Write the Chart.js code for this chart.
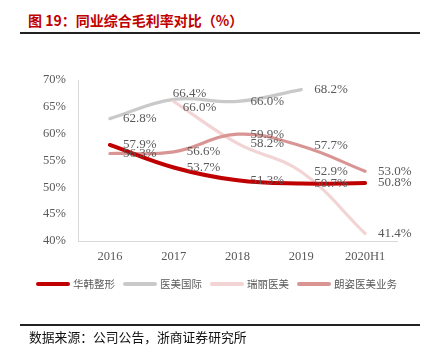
<!DOCTYPE html>
<html><head><meta charset="utf-8">
<script src="https://cdn.jsdelivr.net/npm/chart.js@4/dist/chart.umd.min.js"></script>
<style>
html,body{margin:0;padding:0;background:#fff;}
#wrap{position:relative;width:436px;height:357px;overflow:hidden;}
#c{position:absolute;left:0;top:0;}
.title{position:absolute;left:28px;top:10px;font:bold 14px "Noto Sans CJK SC";color:#C00000;white-space:nowrap;line-height:20px;}
.rule{position:absolute;left:20px;width:400px;height:2px;background:#222;}
.src{position:absolute;left:29px;top:328px;font:12.8px "Noto Sans CJK SC";color:#111;white-space:nowrap;line-height:18px;}
#legend{position:absolute;left:36px;top:277px;height:14px;white-space:nowrap;font:10.5px "Noto Sans CJK SC";color:#595959;line-height:14px;}
#legend span.it{display:inline-block;margin-right:8px;}
#legend i{display:inline-block;width:34px;height:4px;border-radius:2px;vertical-align:middle;margin-right:3px;position:relative;top:-1px;}
</style></head>
<body><div id="wrap">
<div class="title">图 19：同业综合毛利率对比（%）</div>
<div class="rule" style="top:32px"></div>
<canvas id="c" width="436" height="357"></canvas>
<div id="legend"></div>
<div class="rule" style="top:324px"></div>
<div class="src">数据来源：公司公告，浙商证券研究所</div>
</div>
<script>
const categories = ['2016','2017','2018','2019','2020H1'];
const seriesNames = ['华韩整形','医美国际','瑞丽医美','朗姿医美业务'];
const huahan = [57.9, 53.7, 51.3, 50.7, 50.8];
const yimei = [62.8, 66.4, 66.0, 68.2, null];
const ruili = [null, 66.0, 58.2, 52.9, 41.4];
const langzi = [56.3, 56.6, 59.9, 57.7, 53.0];
const yTicks = [40, 45, 50, 55, 60, 65, 70];

const colors = ['#C00000', '#C9C9C9', '#F2D4D4', '#D99594'];
const widths = [4, 3.2, 3.2, 3.2];
const values = [huahan, yimei, ruili, langzi];
// label offsets (dx, dy) relative to default right placement
const labelAdjust = {'1-1': [-14, -6], '2-1': [-4, 6.5]};

const labelPlugin = {
  id: 'vlabels',
  afterDatasetsDraw(chart) {
    const ctx = chart.ctx;
    ctx.save();
    ctx.font = '13px "Liberation Serif"';
    ctx.fillStyle = '#595959';
    ctx.textAlign = 'left';
    ctx.textBaseline = 'middle';
    chart.data.datasets.forEach((ds, di) => {
      const meta = chart.getDatasetMeta(di);
      meta.data.forEach((pt, i) => {
        const v = ds.data[i];
        if (v === null || v === undefined) return;
        const adj = labelAdjust[di + '-' + i] || [0, 0];
        ctx.fillText(v.toFixed(1) + '%', pt.x + 13 + adj[0], pt.y + adj[1]);
      });
    });
    ctx.restore();
  }
};

const datasets = seriesNames.map((n, k) => ({
  label: n,
  data: values[k],
  borderColor: colors[k],
  backgroundColor: colors[k],
  borderWidth: widths[k],
  pointRadius: 0,
  tension: 0.4,
  fill: false,
  borderCapStyle: 'round',
  order: [1, 4, 3, 2][k]
}));

new Chart(document.getElementById('c'), {
  type: 'line',
  data: { labels: categories, datasets },
  options: {
    responsive: false,
    animation: false,
    devicePixelRatio: 1,
    layout: { padding: { left: 0, right: 39, top: 80, bottom: 86 } },
    plugins: { legend: { display: false }, tooltip: { enabled: false } },
    scales: {
      x: {
        offset: true,
        grid: { display: false, drawTicks: false },
        border: { display: true, color: '#D9D9D9', width: 1 },
        ticks: { color: '#595959', font: { family: 'Liberation Serif', size: 12.5 }, padding: 8, maxRotation: 0 },
        afterFit(s) { s.height = 30; }
      },
      y: {
        min: 40, max: 70,
        afterBuildTicks(s) { s.ticks = yTicks.map(v => ({ value: v })); },
        grid: { display: false, drawTicks: false },
        border: { display: true, color: '#D9D9D9', width: 1 },
        ticks: { color: '#595959', font: { family: 'Liberation Serif', size: 12.5 }, padding: 12, callback: v => v + '%' },
        afterFit(s) { s.width = 78; }
      }
    }
  },
  plugins: [labelPlugin]
});

const lg = document.getElementById('legend');
seriesNames.forEach((n, k) => {
  const s = document.createElement('span');
  s.className = 'it';
  s.innerHTML = '<i style="background:' + colors[k] + '"></i>' + n;
  lg.appendChild(s);
});
</script>
</body></html>
